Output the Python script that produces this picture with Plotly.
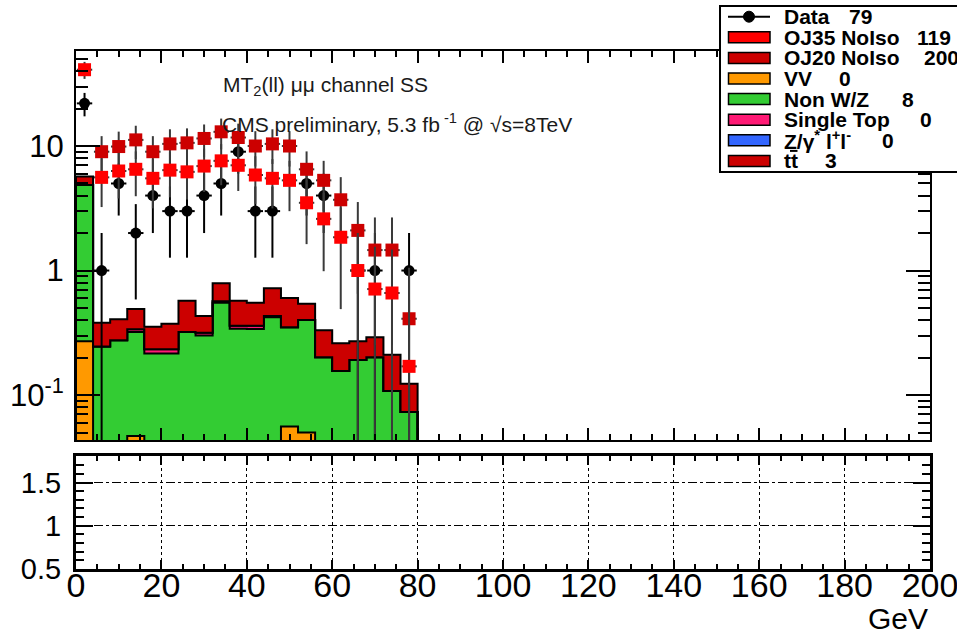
import numpy as np
import plotly.graph_objects as go

# ---------------- data ----------------
bin_edges = [0, 4, 8, 12, 16, 20, 24, 28, 32, 36, 40, 44, 48, 52, 56, 60, 64, 68, 72, 76, 80]

data_counts = [22, 1, 5, 2, 4, 3, 3, 4, 5, 9, 3, 3, None, 5, 4, None, 1, 1, None, 1]
oj35_noiso = [41, 5.6, 6.3, 6.5, 5.5, 6.4, 6.2, 6.9, 7.6, 7.0, 5.85, 5.5, 5.3, 3.5, 2.6, 1.85, 1.0, 0.71, 0.66, 0.17]
oj20_noiso = [None, 9.0, 9.9, 11.2, 9.0, 10.4, 10.6, 11.5, 13.0, 11.7, 10.0, 10.4, 10.0, 6.5, 5.3, 3.7, 2.1, 1.46, 1.46, 0.41]

vv = [0.27, 0, 0, 0.046, 0, 0, 0, 0, 0, 0, 0, 0, 0.055, 0.049, 0, 0, 0, 0, 0, 0]
non_wz = [4.6, 0.244, 0.275, 0.274, 0.215, 0.215, 0.32, 0.30, 0.55, 0.34, 0.338, 0.42, 0.295, 0.351,
          0.20, 0.155, 0.19, 0.20, 0.107, 0.072]
single_top = [0, 0, 0, 0.016, 0.017, 0.017, 0, 0.015, 0.015, 0.02, 0.022, 0.01, 0, 0, 0, 0, 0, 0, 0, 0]
z_dy = [0, 0, 0, 0, 0, 0, 0, 0, 0, 0, 0, 0, 0, 0, 0, 0, 0, 0, 0, 0]
ttbar = [0.83, 0.136, 0.13, 0.154, 0.12, 0.141, 0.25, 0.115, 0.225, 0.21, 0.19, 0.29, 0.25, 0.14,
         0.13, 0.105, 0.08, 0.09, 0.103, 0.05]

legend_names = ["Data", "OJ35 NoIso", "OJ20 NoIso", "VV", "Non W/Z", "Single Top",
                "Z/γ<sup>*</sup> l<sup>+</sup>l<sup>-</sup>", "tt"]
legend_counts = ["79", "119", "200", "0", "8", "0", "0", "3"]

x_ticks_lower = [0, 20, 40, 60, 80, 100, 120, 140, 160, 180, 200]
y_ticks_upper = [0.1, 1, 10]
y_ticklabels_upper = ["10<sup>-1</sup>", "1", "10"]
y_ticks_lower = [0.5, 1, 1.5]

# ---------------- styling ----------------
FONT = "Liberation Sans, Arial, Helvetica, sans-serif"
C_OJ35 = "#ff0000"
C_OJ20 = "#cc0000"
C_VV = "#ff9900"
C_NWZ = "#33cc33"
C_ST = "#ff1a75"
C_DY = "#3366ff"
C_TT = "#cc0000"

W, H = 957, 635
ML, MR, MT, MB = 76, 27, 51, 66
PW, PH = W - ML - MR, H - MT - MB


def px(xp):
    return (xp - ML) / PW


def py(yp):
    return (H - MB - yp) / PH


edges = np.array(bin_edges, dtype=float)
centers = 0.5 * (edges[:-1] + edges[1:])
BASE = 1e-3


def step_xy(vals):
    xs = [edges[0]] + list(edges[:-1]) + [edges[-1], edges[-1]]
    ys = [BASE] + list(vals) + [vals[-1], BASE]
    return xs, ys


fig = go.Figure()

# stacked histogram as filled step outlines
layers = [("VV", vv, C_VV), ("Non W/Z", non_wz, C_NWZ), ("Single Top", single_top, C_ST),
          ("DY", z_dy, C_DY), ("ttbar", ttbar, C_TT)]
cum = np.full(len(centers), BASE)
xs, ys = step_xy(cum)
fig.add_trace(go.Scatter(x=xs, y=ys, mode="lines", line=dict(width=0, shape="hv"),
                         showlegend=False, hoverinfo="skip", xaxis="x", yaxis="y"))
for name, vals, col in layers:
    cum = cum + np.array(vals, dtype=float)
    xs, ys = step_xy(cum)
    fig.add_trace(go.Scatter(x=xs, y=ys, mode="lines", fill="tonexty", fillcolor=col,
                             line=dict(color="black", width=2, shape="hv"), name=name,
                             showlegend=False, xaxis="x", yaxis="y"))


def errs(vals):
    up, dn = [], []
    for v in vals:
        if v is None:
            up.append(0)
            dn.append(0)
        else:
            e = float(np.sqrt(v))
            up.append(e)
            dn.append(min(e, v - BASE))
    return up, dn


# data
up, dn = errs(data_counts)
fig.add_trace(go.Scatter(x=centers, y=data_counts, mode="markers",
                         marker=dict(symbol="circle", size=11, color="black"),
                         error_y=dict(type="data", symmetric=False, array=up, arrayminus=dn,
                                      color="black", thickness=2, width=0),
                         error_x=dict(type="constant", value=1.8, color="black", thickness=2, width=0),
                         showlegend=False, xaxis="x", yaxis="y"))

for vals, col in [(oj20_noiso, C_OJ20), (oj35_noiso, C_OJ35)]:
    up, dn = errs(vals)
    fig.add_trace(go.Scatter(x=centers, y=vals, mode="markers",
                             marker=dict(symbol="square", size=13, color=col),
                             error_y=dict(type="data", symmetric=False, array=up, arrayminus=dn,
                                          color="#3a3a3a", thickness=2, width=0),
                             error_x=dict(type="constant", value=1.8, color="#3a3a3a", thickness=2, width=0),
                             showlegend=False, xaxis="x", yaxis="y"))

# empty ratio panel trace
fig.add_trace(go.Scatter(x=[], y=[], mode="markers", showlegend=False, xaxis="x2", yaxis="y2"))

# ---------------- texts ----------------
annotations = [
    dict(text="MT<sub>2</sub>(ll) μμ channel SS", x=px(221), y=py(86), xref="paper", yref="paper",
         xanchor="left", yanchor="middle", showarrow=False, font=dict(family=FONT, size=21, color="#1a1a1a")),
    dict(text="CMS preliminary, 5.3 fb<sup> -1</sup> @ √s=8TeV", x=px(220), y=py(123), xref="paper", yref="paper",
         xanchor="left", yanchor="middle", showarrow=False, font=dict(family=FONT, size=21, color="#1a1a1a")),
    dict(text="GeV", x=1.0, y=py(618), xref="paper", yref="paper", xanchor="right", yanchor="middle",
         showarrow=False, font=dict(family=FONT, size=30, color="black")),
]

# ---------------- custom legend ----------------
shapes = [dict(type="rect", xref="paper", yref="paper", x0=px(720), x1=px(965), y0=py(172), y1=py(6),
               fillcolor="white", line=dict(color="black", width=2), layer="above")]
swatch_cols = [None, C_OJ35, C_OJ20, C_VV, C_NWZ, C_ST, C_DY, C_TT]
count_x = [846.7, 915, 921.7, 836.7, 900, 918, 880, 823]
for i, (nm, ct) in enumerate(zip(legend_names, legend_counts)):
    yc = 16.7 + i * 20.6
    if swatch_cols[i] is None:
        shapes.append(dict(type="line", xref="paper", yref="paper", x0=px(728), x1=px(770), y0=py(yc), y1=py(yc),
                           line=dict(color="black", width=2), layer="above"))
        shapes.append(dict(type="circle", xref="paper", yref="paper", x0=px(743.5), x1=px(754.5),
                           y0=py(yc + 5.5), y1=py(yc - 5.5), fillcolor="black",
                           line=dict(color="black", width=1), layer="above"))
    else:
        shapes.append(dict(type="rect", xref="paper", yref="paper", x0=px(728.5), x1=px(770),
                           y0=py(yc + 5.5), y1=py(yc - 5.5), fillcolor=swatch_cols[i],
                           line=dict(color="black", width=1.5), layer="above"))
    annotations.append(dict(text="<b>%s</b>" % nm, x=px(782), y=py(yc), xref="paper", yref="paper",
                            xanchor="left", yanchor="middle", showarrow=False,
                            font=dict(family=FONT, size=21, color="black")))
    annotations.append(dict(text="<b>%s</b>" % ct, x=px(count_x[i]), y=py(yc), xref="paper", yref="paper",
                            xanchor="left", yanchor="middle", showarrow=False,
                            font=dict(family=FONT, size=21, color="black")))
# bar over the second t of "tt"
tt_y = 16.7 + 7 * 20.6 - 10
shapes.append(dict(type="line", xref="paper", yref="paper", x0=px(790), x1=px(797.5), y0=py(tt_y), y1=py(tt_y),
                   line=dict(color="black", width=2), layer="above"))

# ---------------- axes ----------------
upper_bottom = py(440)
lower_top = py(456)

fig.update_layout(
    width=W, height=H,
    margin=dict(l=ML, r=MR, t=MT, b=MB, autoexpand=False),
    paper_bgcolor="white", plot_bgcolor="white",
    font=dict(family=FONT, color="black"),
    showlegend=False,
    annotations=annotations,
    shapes=shapes,
    xaxis=dict(domain=[0, 1], anchor="y", range=[0, 200], showticklabels=False, automargin=False,
               tickmode="linear", tick0=0, dtick=20, ticks="inside", ticklen=12, tickwidth=1.5, tickcolor="black",
               minor=dict(dtick=5, ticks="inside", ticklen=6, tickwidth=1.5, tickcolor="black"),
               showline=True, linecolor="black", linewidth=2, mirror="ticks", showgrid=False, zeroline=False),
    yaxis=dict(domain=[upper_bottom, 1], anchor="x", type="log", range=[-1.361, 1.763], automargin=False,
               tickmode="array", tickvals=y_ticks_upper, ticktext=y_ticklabels_upper,
               ticks="inside", ticklen=24, tickwidth=1.5, tickcolor="black",
               minor=dict(tickmode="array",
                          tickvals=[0.05, 0.06, 0.07, 0.08, 0.09, 0.2, 0.3, 0.4, 0.5, 0.6, 0.7, 0.8, 0.9,
                                    2, 3, 4, 5, 6, 7, 8, 9, 20, 30, 40, 50],
                          ticks="inside", ticklen=12, tickwidth=1.5, tickcolor="black"),
               tickfont=dict(size=31, family=FONT), ticklabelstandoff=4,
               showline=True, linecolor="black", linewidth=2, mirror="ticks", showgrid=False, zeroline=False),
    xaxis2=dict(domain=[0, 1], anchor="y2", range=[0, 200], tickmode="array", tickvals=x_ticks_lower,
                ticktext=[str(v) for v in x_ticks_lower], automargin=False, ticklabeloverflow="allow",
                ticks="inside", ticklen=9, tickwidth=1.5, tickcolor="black",
                minor=dict(dtick=5, ticks="inside", ticklen=5, tickwidth=1.5, tickcolor="black"),
                tickfont=dict(size=34, family=FONT), ticklabelstandoff=-16,
                showgrid=True, gridcolor="black", gridwidth=1, griddash="dot",
                showline=True, linecolor="black", linewidth=3, mirror="ticks", zeroline=False),
    yaxis2=dict(domain=[0, lower_top], anchor="x2", range=[0.5, 1.807], tickmode="array", automargin=False,
                tickvals=y_ticks_lower, ticktext=["0.5", "1", "1.5"],
                ticks="inside", ticklen=17, tickwidth=1.5, tickcolor="black",
                minor=dict(dtick=0.1, tick0=0.5, ticks="inside", ticklen=8, tickwidth=1.5, tickcolor="black"),
                tickfont=dict(size=29, family=FONT), ticklabelstandoff=6,
                showgrid=True, gridcolor="black", gridwidth=1, griddash="dashdot",
                showline=True, linecolor="black", linewidth=3, mirror="ticks", zeroline=False),
)

fig.write_html("out.html")
